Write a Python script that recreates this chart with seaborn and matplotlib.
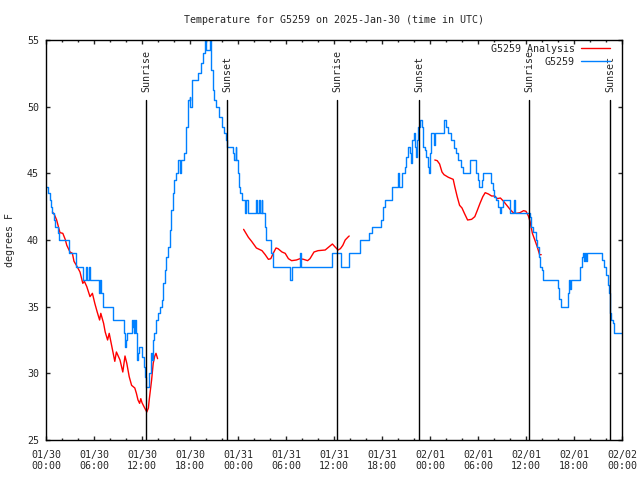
import pandas as pd
import matplotlib
matplotlib.use('Agg')
import matplotlib.pyplot as plt
import matplotlib.transforms as mtransforms
from matplotlib.lines import Line2D
from matplotlib.ticker import MultipleLocator
import seaborn as sns

# Observed temperatures (hours since 2025-01-30 00:00 UTC, degrees F), stepped
blue_hours = [0.0, 0.25, 0.45, 0.6, 0.75, 0.95, 1.15, 1.45, 1.65, 2.85, 3.8, 4.6, 4.95, 5.1, 5.35,
              5.45, 6.65, 6.75, 6.85, 7.15, 8.4, 9.75, 9.85, 9.95, 10.15, 10.75, 10.85, 10.95, 11.0,
              11.1, 11.2, 11.35, 11.45, 11.6, 12.05, 12.2, 12.4, 12.55, 12.85, 13.1, 13.25, 13.35,
              13.55, 13.75, 13.95, 14.2, 14.45, 14.6, 14.85, 15.05, 15.25, 15.45, 15.65, 15.85,
              16.05, 16.25, 16.45, 16.7, 16.9, 17.2, 17.45, 17.75, 17.95, 18.05, 18.25, 19.0, 19.4,
              19.65, 19.85, 20.05, 20.45, 20.65, 20.85, 21.05, 21.25, 21.6, 21.95, 22.2, 22.45,
              22.6, 23.35, 23.5, 23.7, 23.8, 24.05, 24.15, 24.3, 24.45, 24.85, 24.95, 25.2, 26.2,
              26.35, 26.6, 26.7, 26.95, 27.05, 27.35, 27.55, 28.15, 28.35, 30.45, 30.7, 31.8, 31.85,
              35.8, 36.85, 37.85, 39.2, 40.4, 40.8, 41.9, 42.1, 42.35, 43.3, 44.0, 44.15, 44.45,
              44.85, 45.05, 45.25, 45.45, 45.6, 45.75, 45.95, 46.1, 46.25, 46.4, 46.55, 46.75,
              46.95, 47.15, 47.35, 47.55, 47.75, 47.9, 48.05, 48.15, 48.5, 48.65, 49.7, 49.95,
              50.25, 50.6, 51.0, 51.25, 51.45, 51.9, 52.15, 52.95, 53.8, 53.95, 54.15, 54.45, 54.6,
              55.65, 55.85, 56.05, 56.3, 56.45, 56.7, 56.9, 57.1, 57.95, 58.55, 58.65, 60.45,
              60.65, 60.85, 61.2, 61.4, 61.6, 61.7, 61.95, 62.15, 63.95, 64.15, 64.4, 65.25, 65.35,
              65.5, 65.65, 66.75, 66.95, 67.15, 67.3, 67.4, 67.5, 67.6, 69.55, 69.8, 70.05, 70.25,
              70.35, 70.45, 70.55, 70.65, 70.85, 71.05, 72.0]
blue_temps = [44.0, 43.5, 43.0, 42.5, 42.0, 41.5, 41.0, 40.5, 40.0, 39.0, 38.0, 37.0, 38.0, 37.0, 38.0,
              37.0, 36.0, 37.0, 36.0, 35.0, 34.0, 33.0, 32.0, 32.5, 33.0, 34.0, 33.5, 34.0, 33.0,
              34.0, 33.0, 31.0, 31.5, 32.0, 31.25, 30.5, 29.75, 29.0, 30.0, 31.5, 31.0, 32.5,
              33.0, 34.0, 34.5, 35.0, 35.5, 36.75, 37.75, 38.75, 39.5, 40.75, 42.25, 43.5,
              44.5, 45.0, 46.0, 45.0, 46.0, 46.5, 48.5, 50.5, 50.75, 50.0, 52.0, 52.5, 53.25,
              54.0, 55.0, 54.25, 55.0, 52.75, 51.25, 50.5, 50.0, 49.25, 48.5, 48.0, 47.5,
              47.0, 46.5, 46.0, 47.0, 46.0, 45.0, 44.0, 43.5, 43.0, 42.0, 43.0, 42.0, 43.0,
              42.0, 43.0, 42.0, 43.0, 42.0, 41.0, 40.0, 39.0, 38.0, 37.0, 38.0, 39.0, 38.0,
              39.0, 38.0, 39.0, 40.0, 40.5, 41.0, 41.5, 42.5, 43.0, 44.0, 45.0, 44.0, 45.0,
              45.5, 46.25, 47.0, 46.5, 45.75, 47.5, 48.0, 47.0, 46.25, 47.5, 48.5, 49.0,
              48.5, 47.0, 46.75, 46.25, 45.5, 45.0, 46.5, 48.0, 47.1, 48.0, 49.0, 48.5,
              48.0, 47.5, 46.9, 46.5, 46.0, 45.5, 45.0, 46.0, 45.0, 44.5, 44.0, 44.5, 45.0,
              44.25, 43.75, 43.25, 43.0, 42.5, 42.0, 42.5, 43.0, 42.0, 43.0, 42.0, 41.75,
              41.0, 40.6, 40.0, 39.5, 38.75, 38.0, 37.75, 37.0, 36.4, 35.6, 35.0, 36.0, 37.0,
              36.3, 37.0, 38.0, 38.75, 39.0, 38.4, 39.0, 38.4, 39.0, 38.5, 38.0, 37.4, 36.6,
              36.0, 35.5, 34.5, 34.0, 33.75, 33.0, 33.0]

# Analysis temperatures, three separate runs
red_hours_1 = [0.8, 1.05, 1.33, 1.55, 1.75, 2.1, 2.4, 2.6, 3.0, 3.3, 3.5, 3.8, 4.25, 4.6, 4.8, 5.1,
               5.5, 5.8, 6.1, 6.4, 6.7, 6.85, 7.2, 7.4, 7.7, 7.9, 8.2, 8.4, 8.6, 8.8, 9.25, 9.6,
               9.875, 10.1, 10.4, 10.7, 11.1, 11.3, 11.5, 11.7, 11.85, 12.0, 12.25, 12.6, 12.8,
               12.9, 13.2, 13.4, 13.6, 13.75, 13.95]
red_temps_1 = [42.1, 41.9, 41.5, 41.0, 40.55, 40.5, 40.05, 39.6, 39.1, 39.0, 38.4, 38.1, 37.6, 36.75,
               36.9, 36.5, 35.75, 36.0, 35.25, 34.6, 34.0, 34.5, 33.75, 33.1, 32.5, 33.0, 32.1,
               31.5, 30.9, 31.6, 31.0, 30.1, 31.3, 30.75, 29.75, 29.1, 28.9, 28.5, 28.0, 27.75,
               28.1, 27.8, 27.5, 27.1, 27.4, 28.0, 29.5, 30.75, 31.3, 31.5, 31.1]
red_hours_2 = [24.7, 25.3, 25.7, 26.3, 27.0, 27.4, 27.8, 28.1, 28.4, 28.75, 29.0, 29.5, 29.9, 30.3,
               30.7, 31.3, 31.75, 32.2, 32.7, 33.0, 33.5, 34.0, 34.9, 35.3, 35.8, 36.1, 36.5, 36.8,
               37.1, 37.4, 37.8, 37.9]
red_temps_2 = [40.8, 40.2, 39.9, 39.4, 39.2, 38.9, 38.55, 38.6, 39.0, 39.4, 39.35, 39.1, 39.0, 38.6,
               38.45, 38.5, 38.6, 38.55, 38.45, 38.6, 39.1, 39.2, 39.25, 39.45, 39.7, 39.5, 39.25,
               39.35, 39.6, 40.0, 40.25, 40.3]
red_hours_3 = [48.6, 48.9, 49.2, 49.5, 49.75, 50.3, 50.7, 50.9, 51.1, 51.4, 51.7, 52.0, 52.3, 52.7,
               53.2, 53.6, 53.9, 54.25, 54.6, 54.9, 55.3, 55.7, 56.1, 56.4, 56.8, 57.2, 57.6, 58.0,
               58.4, 58.8, 59.25, 59.7, 60.0, 60.3, 60.5, 60.8, 61.1, 61.4, 61.7, 61.9]
red_temps_3 = [46.0, 45.95, 45.7, 45.1, 44.9, 44.7, 44.6, 44.55, 44.0, 43.25, 42.6, 42.4, 42.0, 41.5,
               41.55, 41.75, 42.2, 42.75, 43.25, 43.55, 43.45, 43.3, 43.3, 43.1, 43.15, 42.9, 42.6,
               42.3, 42.05, 42.0, 42.05, 42.2, 42.15, 41.8, 41.4, 40.5, 40.0, 39.5, 38.9, 38.9]

sun_hours = [12.5, 22.67, 36.42, 46.67, 60.42, 70.5]
sun_labels = ['Sunrise', 'Sunset', 'Sunrise', 'Sunset', 'Sunrise', 'Sunset']

tick_hours = list(range(0, 73, 6))
tick_labels = ['01/30\n00:00', '01/30\n06:00', '01/30\n12:00', '01/30\n18:00',
               '01/31\n00:00', '01/31\n06:00', '01/31\n12:00', '01/31\n18:00',
               '02/01\n00:00', '02/01\n06:00', '02/01\n12:00', '02/01\n18:00',
               '02/02\n00:00']

red_df = pd.concat([
    pd.DataFrame({'hour': red_hours_1, 'temp': red_temps_1, 'run': 1}),
    pd.DataFrame({'hour': red_hours_2, 'temp': red_temps_2, 'run': 2}),
    pd.DataFrame({'hour': red_hours_3, 'temp': red_temps_3, 'run': 3}),
])
blue_df = pd.DataFrame({'hour': blue_hours, 'temp': blue_temps})

sns.set_style('ticks', {'axes.edgecolor': 'black', 'xtick.direction': 'in', 'ytick.direction': 'in'})
plt.rcParams['font.family'] = ['DejaVu Sans Mono']
plt.rcParams['font.size'] = 7.2

red = '#ff0000'
blue = '#0080ff'

fig = plt.figure(figsize=(6.4, 4.8), dpi=100)
ax = fig.add_axes([46 / 640, 40 / 480, 576 / 640, 400 / 480])

sns.lineplot(data=red_df, x='hour', y='temp', units='run', estimator=None,
             color=red, lw=1, ax=ax, legend=False)
sns.lineplot(data=blue_df, x='hour', y='temp', estimator=None, color=blue, lw=1,
             drawstyle='steps-post', ax=ax, legend=False)

# sunrise / sunset markers
trans = mtransforms.blended_transform_factory(ax.transData, ax.transAxes)
for h, name in zip(sun_hours, sun_labels):
    ax.axvline(h, ymin=0, ymax=0.85, color='black', lw=1)
    ax.text(h, 0.87, name, transform=trans, rotation=90, ha='center', va='bottom',
            fontsize=7.2)

ax.set_xlim(0, 72)
ax.set_ylim(25, 55)
ax.set_xticks(tick_hours)
ax.set_xticklabels(tick_labels)
ax.xaxis.set_minor_locator(MultipleLocator(2))
ax.set_yticks(range(25, 56, 5))
ax.tick_params(which='both', direction='in', top=True, right=True, labelsize=7.2, width=1)
ax.tick_params(which='major', length=3)
ax.tick_params(which='minor', length=1.6)
ax.tick_params(axis='x', pad=7)
ax.tick_params(axis='y', pad=5)
for s in ax.spines.values():
    s.set_linewidth(1)

ax.set_xlabel('')
ax.set_ylabel('degrees F', fontsize=7.2, labelpad=9)
ax.set_title('Temperature for G5259 on 2025-Jan-30 (time in UTC)', fontsize=7.2, pad=12)

handles = [Line2D([], [], color=red, lw=1), Line2D([], [], color=blue, lw=1)]
ax.legend(handles, ['G5259 Analysis', 'G5259'], loc='upper right',
          bbox_to_anchor=(0.979, 0.99), frameon=False, markerfirst=False,
          handlelength=2.9, handletextpad=0.6, labelspacing=0.3,
          borderaxespad=0, borderpad=0, fontsize=7.2)

fig.savefig('out.png', dpi=100)
